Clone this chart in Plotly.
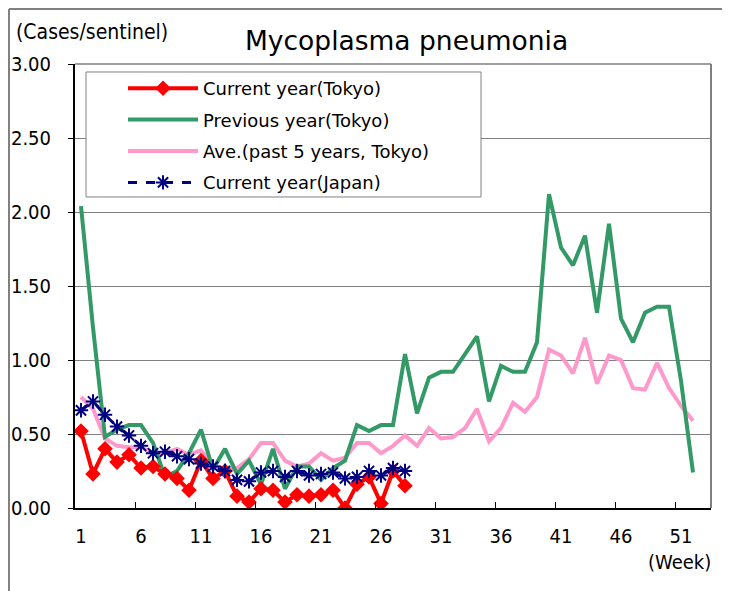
import plotly.graph_objects as go

weeks = list(range(1, 54))
week_ticks = [1, 6, 11, 16, 21, 26, 31, 36, 41, 46, 51]
week_boundaries = [5.5, 10.5, 15.5, 20.5, 25.5, 30.5, 35.5, 40.5, 45.5, 50.5]
y_ticks = [0.0, 0.5, 1.0, 1.5, 2.0, 2.5, 3.0]

current_tokyo = [0.52, 0.23, 0.40, 0.31, 0.36, 0.27, 0.28, 0.23, 0.20, 0.12,
                 0.32, 0.20, 0.25, 0.08, 0.04, 0.13, 0.12, 0.04, 0.09, 0.08,
                 0.09, 0.12, 0.00, 0.16, 0.21, 0.03, 0.25, 0.15]

previous_tokyo = [2.04, 1.22, 0.48, 0.53, 0.56, 0.56, 0.44, 0.21, 0.25, 0.37,
                  0.53, 0.26, 0.40, 0.23, 0.32, 0.16, 0.40, 0.13, 0.28, 0.28,
                  0.19, 0.27, 0.32, 0.56, 0.52, 0.56, 0.56, 1.04, 0.64, 0.88,
                  0.92, 0.92, 1.04, 1.16, 0.72, 0.96, 0.92, 0.92, 1.12, 2.12,
                  1.76, 1.64, 1.84, 1.32, 1.92, 1.28, 1.12, 1.32, 1.36, 1.36,
                  0.86, 0.24]

avg5_tokyo = [0.75, 0.67, 0.47, 0.42, 0.41, 0.41, 0.37, 0.37, 0.40, 0.36,
              0.39, 0.29, 0.26, 0.27, 0.33, 0.44, 0.44, 0.32, 0.28, 0.30,
              0.37, 0.32, 0.34, 0.44, 0.44, 0.37, 0.42, 0.49, 0.42, 0.54,
              0.47, 0.48, 0.54, 0.67, 0.45, 0.54, 0.71, 0.65, 0.75, 1.07,
              1.03, 0.91, 1.15, 0.84, 1.03, 1.00, 0.81, 0.80, 0.98, 0.81,
              0.69, 0.59]

current_japan = [0.66, 0.72, 0.63, 0.55, 0.49, 0.42, 0.37, 0.38, 0.35, 0.33,
                 0.30, 0.28, 0.25, 0.19, 0.18, 0.24, 0.25, 0.21, 0.25, 0.22,
                 0.23, 0.24, 0.20, 0.21, 0.25, 0.22, 0.27, 0.25]

TXT = "DejaVu Sans Condensed, Liberation Sans Narrow, Liberation Sans, sans-serif"
WIDE = "DejaVu Sans, Verdana, sans-serif"

fig = go.Figure()

fig.add_trace(go.Scatter(
    x=weeks[:len(avg5_tokyo)], y=avg5_tokyo, mode="lines",
    name="Ave.(past 5 years, Tokyo)", legendgroup="c", legendrank=3,
    line=dict(color="#FF99CC", width=4)))
fig.add_trace(go.Scatter(
    x=weeks[:len(previous_tokyo)], y=previous_tokyo, mode="lines",
    name="Previous year(Tokyo)", legendgroup="b", legendrank=2,
    line=dict(color="#339966", width=4)))
fig.add_trace(go.Scatter(
    x=weeks[:len(current_tokyo)], y=current_tokyo, mode="lines+markers",
    name="Current year(Tokyo)", legendgroup="a", legendrank=1,
    line=dict(color="#FF0000", width=4),
    marker=dict(symbol="diamond", size=12, color="#FF0000")))
fig.add_trace(go.Scatter(
    x=weeks[:len(current_japan)], y=current_japan, mode="lines+markers",
    name="Current year(Japan)", legendgroup="d", legendrank=4,
    line=dict(color="#000080", width=3, dash="dash"),
    marker=dict(symbol="asterisk-open", size=12,
                line=dict(color="#000080", width=2), color="#000080")))

fig.update_layout(
    width=730, height=591,
    margin=dict(l=67, r=27, t=56, b=91, autoexpand=False),
    plot_bgcolor="white", paper_bgcolor="white",
    showlegend=True,
    legend=dict(x=0.0755, y=0.9865, xanchor="left", yanchor="top",
                bgcolor="rgba(0,0,0,0)", borderwidth=0,
                traceorder="grouped", tracegroupgap=5, itemwidth=70,
                font=dict(family=WIDE, size=18, color="#000000")),
    xaxis=dict(range=[0.5, 53.5], tickmode="array", tickvals=week_ticks,
               ticktext=[str(w) for w in week_ticks], ticks="",
               automargin=False,
               showgrid=False, zeroline=False, showline=True,
               linecolor="#000000", linewidth=2,
               ticklabelstandoff=9,
               tickfont=dict(family=TXT, size=20, color="#000000"),
               minor=dict(tickmode="array", tickvals=week_boundaries,
                          ticks="inside", ticklen=6, tickwidth=1,
                          tickcolor="#000000", showgrid=False)),
    yaxis=dict(range=[0, 3], tickmode="array", tickvals=y_ticks,
               tickformat=".2f", ticks="outside", ticklen=5,
               automargin=False,
               tickcolor="#000000", showgrid=True, gridcolor="#808080",
               gridwidth=1, zeroline=False, showline=True,
               linecolor="#000000", linewidth=2, ticklabelstandoff=13,
               tickfont=dict(family=TXT, size=20, color="#000000")),
)

shapes = [
    dict(type="line", xref="paper", yref="paper", x0=1, x1=1, y0=0, y1=1,
         line=dict(color="#808080", width=2)),
    dict(type="line", xref="paper", yref="paper", x0=0, x1=1, y0=1, y1=1,
         line=dict(color="#808080", width=1.5)),
    dict(type="rect", xref="paper", yref="paper", x0=0.0173, x1=0.6384,
         y0=0.7005, y1=0.982, line=dict(color="#808080", width=1),
         fillcolor="white", layer="above"),
    # outer frame (top and left edges of the figure)
    dict(type="line", xref="paper", yref="paper", x0=-0.1038, x1=1.05,
         y0=1.1239, y1=1.1239, line=dict(color="#808080", width=2)),
    dict(type="line", xref="paper", yref="paper", x0=-0.1038, x1=-0.1038,
         y0=1.1239, y1=-0.21, line=dict(color="#808080", width=2)),
]
fig.update_layout(shapes=shapes)

fig.add_annotation(text="Mycoplasma pneumonia", xref="paper", yref="paper",
                   x=0.522, y=1.052, xanchor="center", yanchor="middle",
                   showarrow=False, font=dict(family=WIDE, size=26.5, color="#000000"))
fig.add_annotation(text="(Cases/sentinel)", xref="paper", yref="paper",
                   x=-0.0959, y=1.072, xanchor="left", yanchor="middle",
                   showarrow=False, font=dict(family=TXT, size=21, color="#000000"))
fig.add_annotation(text="(Week)", xref="paper", yref="paper",
                   x=0.950, y=-0.1216, xanchor="center", yanchor="middle",
                   showarrow=False, font=dict(family=TXT, size=20, color="#000000"))

fig.write_html("out.html")
